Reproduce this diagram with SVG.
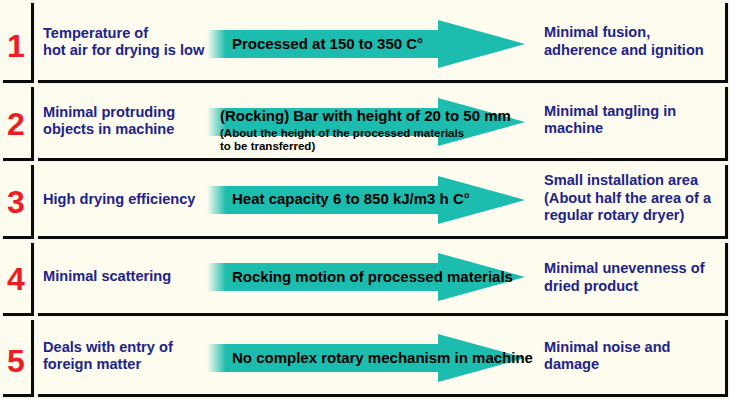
<svg xmlns="http://www.w3.org/2000/svg" width="730" height="399" viewBox="0 0 730 399">
<defs>
<linearGradient id="fade" gradientUnits="userSpaceOnUse" x1="207" y1="0" x2="226" y2="0">
<stop offset="0" stop-color="#1cbcae" stop-opacity="0"/>
<stop offset="1" stop-color="#1cbcae" stop-opacity="1"/>
</linearGradient>
<symbol id="arr" overflow="visible">
<rect x="207" y="-50" width="232" height="28" fill="url(#fade)"/>
<polygon points="438,-60 525,-36 438,-12" fill="#1cbcae"/>
</symbol>
</defs>
<style>
.bg{fill:#f6f5ea}
.box{fill:#fdfcef}
.sh{fill:#0a0a0a}
.num{font-family:"Liberation Sans",Arial,sans-serif;font-weight:bold;font-size:32px;fill:#ee1c24;text-anchor:middle}
.t{font-family:"Liberation Sans",Arial,sans-serif;font-weight:bold;font-size:14.6px;fill:#22238a}
.a{font-family:"Liberation Sans",Arial,sans-serif;font-weight:bold;font-size:15px;fill:#000}
.s{font-family:"Liberation Sans",Arial,sans-serif;font-weight:bold;font-size:11.5px;fill:#000}
</style>
<rect class="bg" x="0" y="0" width="730" height="399"/>

<g id="row1">
<rect class="sh" x="3" y="3" width="31" height="80"/><rect class="box" x="0" y="0" width="31" height="80"/>
<rect class="sh" x="38" y="3" width="690" height="80"/><rect class="box" x="35" y="0" width="690" height="80"/>
<text class="num" x="16" y="57">1</text>
<text class="t" x="43" y="37.5">Temperature of</text>
<text class="t" x="43" y="54.5">hot air for drying is low</text>
<text class="t" x="544" y="37">Minimal fusion,</text>
<text class="t" x="544" y="55">adherence and ignition</text>
</g>

<g id="row2">
<rect class="sh" x="3" y="87" width="31" height="74"/><rect class="box" x="0" y="84" width="31" height="74"/>
<rect class="sh" x="38" y="87" width="690" height="74"/><rect class="box" x="35" y="84" width="690" height="74"/>
<text class="num" x="16" y="135">2</text>
<text class="t" x="43" y="117">Minimal protruding</text>
<text class="t" x="43" y="134">objects in machine</text>
<text class="t" x="544" y="116">Minimal tangling in</text>
<text class="t" x="544" y="133">machine</text>
</g>

<g id="row3">
<rect class="sh" x="3" y="165" width="31" height="74"/><rect class="box" x="0" y="162" width="31" height="74"/>
<rect class="sh" x="38" y="165" width="690" height="74"/><rect class="box" x="35" y="162" width="690" height="74"/>
<text class="num" x="16" y="213">3</text>
<text class="t" x="43" y="204">High drying efficiency</text>
<text class="t" x="544" y="185">Small installation area</text>
<text class="t" x="544" y="203">(About half the area of a</text>
<text class="t" x="544" y="220">regular rotary dryer)</text>
</g>

<g id="row4">
<rect class="sh" x="3" y="243" width="31" height="73"/><rect class="box" x="0" y="240" width="31" height="73"/>
<rect class="sh" x="38" y="243" width="690" height="73"/><rect class="box" x="35" y="240" width="690" height="73"/>
<text class="num" x="16" y="290">4</text>
<text class="t" x="43" y="281">Minimal scattering</text>
<text class="t" x="544" y="273">Minimal unevenness of</text>
<text class="t" x="544" y="291">dried product</text>
</g>

<g id="row5">
<rect class="sh" x="3" y="320" width="31" height="77"/><rect class="box" x="0" y="317" width="31" height="77"/>
<rect class="sh" x="38" y="320" width="690" height="77"/><rect class="box" x="35" y="317" width="690" height="77"/>
<text class="num" x="16" y="372">5</text>
<text class="t" x="43" y="352">Deals with entry of</text>
<text class="t" x="43" y="369">foreign matter</text>
<text class="t" x="544" y="352">Minimal noise and</text>
<text class="t" x="544" y="369">damage</text>
</g>

<g id="connectors">
<use href="#arr" x="0" y="80"/>
<text class="a" x="232" y="49">Processed at 150 to 350 C°</text>
<use href="#arr" x="0" y="158"/>
<text class="a" x="220" y="121">(Rocking) Bar with height of 20 to 50 mm</text>
<text class="s" x="220" y="137">(About the height of the processed materials</text>
<text class="s" x="220" y="150">to be transferred)</text>
<use href="#arr" x="0" y="236"/>
<text class="a" x="232" y="204">Heat capacity 6 to 850 kJ/m3 h C°</text>
<use href="#arr" x="0" y="313"/>
<text class="a" x="232" y="282">Rocking motion of processed materials</text>
<use href="#arr" x="0" y="394"/>
<text class="a" x="232" y="363">No complex rotary mechanism in machine</text>
</g>
</svg>
